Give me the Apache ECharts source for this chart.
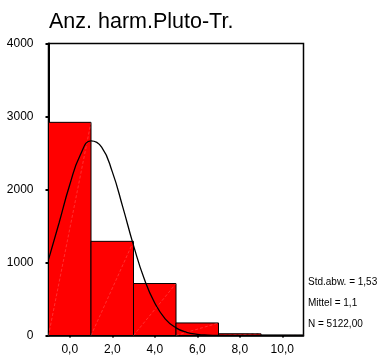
<!DOCTYPE html>
<html>
<head>
<meta charset="utf-8">
<script src="https://cdn.jsdelivr.net/npm/echarts@6/dist/echarts.min.js"></script>
<style>
  html, body { margin: 0; padding: 0; background: #fff; }
  #chart { width: 392px; height: 356px; }
</style>
</head>
<body>
<div id="chart"></div>
<script>
// Histogram of "Anz. harm.Pluto-Tr." with fitted normal curve
const binStart = [-1, 1, 3, 5, 7, 9];
const binEnd   = [1, 3, 5, 7, 9, 11];
const counts   = [2920, 1290, 712, 172, 24, 4];

// normal curve read along the x range
const curveX = [-1, -0.5, 0, 0.5, 1, 1.5, 2, 2.5, 3, 3.5, 4, 4.5, 5, 5.5, 6, 6.5, 7, 8, 9, 10, 11];
const curveY = [1040, 1545, 2065, 2475, 2665, 2580, 2245, 1755, 1235, 780, 445, 225, 105, 43, 16, 5, 1, 0, 0, 0, 0];

const xTickValues = [0, 2, 4, 6, 8, 10];
const xTickLabels = ['0,0', '2,0', '4,0', '6,0', '8,0', '10,0'];
const yTickLabels = ['0', '1000', '2000', '3000', '4000'];

const statsLines = ['Std.abw. = 1,53', 'Mittel = 1,1', 'N = 5122,00'];

const FONT = 'Liberation Sans, Arial, sans-serif';

const barData = counts.map((c, i) => [binStart[i], binEnd[i], c]);
const curveData = curveX.map((x, i) => [x, curveY[i]]);

const chart = echarts.init(document.getElementById('chart'), null, { renderer: 'canvas' });

chart.setOption({
  animation: false,
  backgroundColor: '#fff',
  title: {
    text: 'Anz. harm.Pluto-Tr.',
    left: 44,
    top: 6,
    textStyle: { fontFamily: FONT, fontSize: 21.5, fontWeight: 'normal', color: '#000' }
  },
  grid: {
    left: 48.5, top: 43.5, right: 88.5, bottom: 20.5,
    show: true, borderColor: '#000', borderWidth: 1.5, backgroundColor: 'transparent'
  },
  xAxis: {
    type: 'value', min: -1, max: 11,
    axisLine: { show: true, onZero: false, lineStyle: { color: '#000', width: 1.5 } },
    axisTick: { show: true, length: 2, customValues: xTickValues, lineStyle: { color: '#000', width: 2 } },
    axisLabel: {
      customValues: xTickValues,
      margin: 8,
      fontFamily: FONT, fontSize: 12, color: '#000',
      formatter: v => xTickLabels[xTickValues.indexOf(v)]
    },
    splitLine: { show: false }
  },
  yAxis: {
    type: 'value', min: 0, max: 4000, interval: 1000,
    axisLine: { show: true, onZero: false, lineStyle: { color: '#000', width: 2 } },
    axisTick: { show: true, length: 3, lineStyle: { color: '#000', width: 2 } },
    axisLabel: {
      margin: 15, fontFamily: FONT, fontSize: 12, color: '#000',
      formatter: (v, i) => yTickLabels[i]
    },
    splitLine: { show: false }
  },
  series: [
    {
      type: 'custom',
      data: barData,
      encode: { x: [0, 1], y: 2 },
      renderItem: (params, api) => {
        const p0 = api.coord([api.value(0), 0]);
        const p1 = api.coord([api.value(1), api.value(2)]);
        return {
          type: 'group',
          children: [
            {
              type: 'rect',
              shape: { x: p0[0], y: p1[1], width: p1[0] - p0[0], height: p0[1] - p1[1] },
              style: { fill: '#ff0000', stroke: '#000', lineWidth: 1 }
            },
            {
              type: 'line',
              shape: { x1: p0[0], y1: p0[1], x2: p1[0], y2: p1[1] },
              style: { stroke: 'rgba(255,190,190,0.5)', lineWidth: 0.5, lineDash: [3, 2] }
            }
          ]
        };
      },
      z: 2
    },
    {
      type: 'line',
      data: curveData,
      smooth: true,
      showSymbol: false,
      lineStyle: { color: '#000', width: 1.3 },
      z: 3
    }
  ],
  graphic: statsLines.map((t, i) => ({
    type: 'text',
    left: 308,
    top: 277 + i * 21,
    style: { text: t, fontFamily: FONT, fontSize: 10, fill: '#000' }
  }))
});
</script>
</body>
</html>
